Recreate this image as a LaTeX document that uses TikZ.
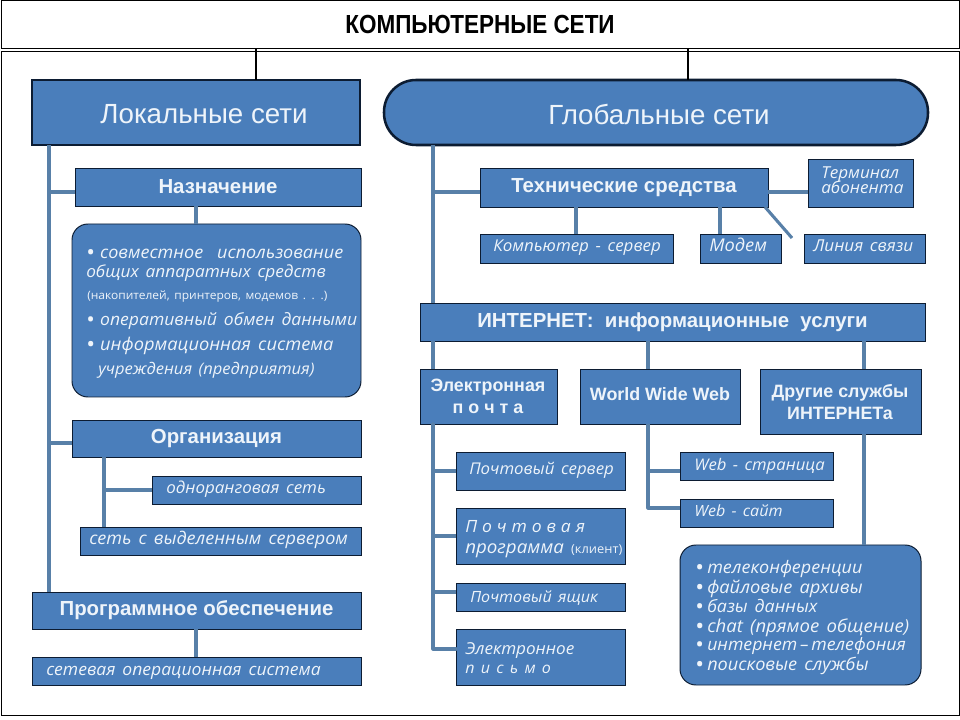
\documentclass[tikz,border=0pt]{standalone}
\usepackage{fontspec}
\setmainfont{Liberation Sans}
\newfontfamily\titlefont[FakeStretch=0.86]{Liberation Sans}
\newfontfamily\itfont[WordSpace=1.5,FakeStretch=1.04]{Open Sans}
\usetikzlibrary{positioning}
\definecolor{boxfill}{RGB}{74, 126, 187}
\definecolor{boxline}{RGB}{12, 28, 50}
\definecolor{wirecolor}{RGB}{88, 128, 168}
\definecolor{boxtext}{RGB}{238, 244, 250}
\newcommand{\bull}[1]{\makebox[#1pt][l]{\upshape\bfseries •}}

\tikzset{
  wd/.style={minimum width=#1*0.025cm},
  ht/.style={minimum height=#1*0.025cm},
  fs/.style={font=\itfont\itshape\fontsize{#1}{11.4}\selectfont},
  framebox/.style={draw=black, line width=0.6pt, inner sep=0pt, outer sep=0pt},
  tbox/.style={draw=boxline, fill=boxfill, line width=0.7pt, inner sep=0pt, outer sep=0pt, text=boxtext, font=\bfseries\fontsize{14.5}{16}\selectfont},
  headbox/.style={tbox, line width=1.8pt},
  headtxt/.style={inner sep=0pt, text=boxtext, font=\fontsize{19.7}{22}\selectfont},
  softbox/.style={tbox, rounded corners=0.4cm},
  wire/.style={draw=wirecolor, line width=2.2pt},
  itxt/.style={inner sep=0pt, anchor=base west, text=boxtext},
  btxt/.style={inner sep=0pt, text=boxtext, align=center, font=\bfseries\fontsize{12.7}{15.5}\selectfont},
}

\begin{document}
\begin{tikzpicture}[x=0.025cm, y=-0.025cm]
  \useasboundingbox (0,0) rectangle (960,720);

  % ---------- Frames ----------
  \node[framebox, wd=958, ht=48, font=\titlefont\bfseries\fontsize{18.6}{20}\selectfont] (title) at (480,24.5) {КОМПЬЮТЕРНЫЕ СЕТИ};
  \node[framebox, wd=958, ht=664] (frame) at (480,383) {};

  % ---------- Left column ----------
  \node[headbox, wd=328, ht=65] (lokal) at (196,112.5) {};
  \node[headtxt] (lokaltxt) at (204,114) {Локальные сети};
  \node[tbox, wd=286, ht=38] (nazn) at (218,187) {Назначение};
  \node[softbox, wd=289, ht=173] (naznlist) at (216.5,310.5) {};
  \node[tbox, wd=289, ht=37] (org) at (216.5,438.5) {Организация};
  \node[tbox, wd=209, ht=28] (peer) at (256.5,490) {};
  \node[tbox, wd=281, ht=28] (dedic) at (220.5,541) {};
  \node[tbox, wd=329, ht=37] (progr) at (196.5,610.5) {Программное обеспечение};
  \node[tbox, wd=329, ht=28] (netos) at (196.5,671) {};

  \node[itxt, fs=12.3] (n1) at (87,259) {\bull{9.2}совместное\ \ использование};
  \node[itxt, fs=11.8] (n2) at (86,278) {общих аппаратных средств};
  \node[itxt, font=\itfont\fontsize{8.2}{10}\selectfont] (n3) at (87,300) {(накопителей, принтеров, модемов . . .)};
  \node[itxt, fs=12] (n4) at (87,326) {\bull{9.2}оперативный обмен данными};
  \node[itxt, fs=12.5] (n5) at (87,351) {\bull{9.2}информационная система};
  \node[itxt, fs=11.3] (n6) at (98,375) {учреждения (предприятия)};
  \node[itxt, fs=11.6] (peertxt) at (166,494) {одноранговая сеть};
  \node[itxt, fs=12.35] (dedictxt) at (89,545) {сеть с выделенным сервером};
  \node[itxt, fs=12] (netostxt) at (46,675) {сетевая операционная система};

  % ---------- Right column ----------
  \node[headbox, wd=544, ht=65, rounded corners=0.8cm] (global) at (656,112.5) {};
  \node[headtxt] (globaltxt) at (659,114) {Глобальные сети};
  \node[tbox, wd=288, ht=39] (tech) at (624,187.5) {Технические средства};
  \node[tbox, wd=105, ht=48] (term) at (860.5,183) {};
  \node[tbox, wd=193, ht=29] (comp) at (576.5,248.5) {};
  \node[tbox, wd=81, ht=29] (modem) at (740.5,248.5) {};
  \node[tbox, wd=121, ht=29] (liniya) at (864.5,248.5) {};
  \node[tbox, wd=505, ht=38] (inet) at (672.5,322) {ИНТЕРНЕТ:\ \ информационные\ \ услуги};

  \node[itxt, fs=11.7] (term1) at (821,179) {Терминал};
  \node[itxt, fs=11.7] (term2) at (821,194) {абонента};
  \node[itxt, fs=11.6] (comptxt) at (493,252) {Компьютер - сервер};
  \node[itxt, fs=12.5] (modemtxt) at (709,252) {Модем};
  \node[itxt, fs=11.7] (liniyatxt) at (813,252) {Линия связи};

  \node[tbox, wd=137, ht=55] (mail) at (488.5,396.5) {};
  \node[tbox, wd=160, ht=55] (www) at (660,396.5) {};
  \node[tbox, wd=161, ht=65] (other) at (840.5,401.5) {};
  \node[btxt] (mailtxt) at (488,396) {Электронная\\п о ч т а};
  \node[btxt] (wwwtxt) at (660,394) {World Wide Web};
  \node[btxt] (othertxt) at (840,402) {Другие службы\\ИНТЕРНЕТа};

  \node[tbox, wd=169, ht=38] (msrv) at (540.5,471) {};
  \node[tbox, wd=169, ht=56] (mprog) at (540.5,536) {};
  \node[tbox, wd=169, ht=28] (mbox) at (540.5,597) {};
  \node[tbox, wd=169, ht=56] (mlet) at (540.5,657) {};
  \node[itxt, fs=11.5] (msrvtxt) at (469,475) {Почтовый сервер};
  \node[itxt, fs=12] (mprog1) at (465,533) {П\hspace{3.5pt}о\hspace{3.5pt}ч\hspace{3.5pt}т\hspace{3.5pt}о\hspace{3.5pt}в\hspace{3.5pt}а\hspace{3.5pt}я};
  \node[itxt, fs=12.8] (mprog2) at (465,553) {программа \textup{\fontsize{8.8}{10}\selectfont(клиент)}};
  \node[itxt, fs=11] (mboxtxt) at (470,602) {Почтовый ящик};
  \node[itxt, fs=11.7] (mlet1) at (465,654) {Электронное};
  \node[itxt, fs=11] (mlet2) at (465,673) {п и с ь м о};

  \node[tbox, wd=153, ht=28] (wpage) at (756.5,466) {};
  \node[tbox, wd=153, ht=28] (wsite) at (756.5,513) {};
  \node[itxt, fs=11.4] (wpagetxt) at (694,471) {Web - страница};
  \node[itxt, fs=11] (wsitetxt) at (694,517) {Web - сайт};

  \node[softbox, wd=241, ht=140] (otherlist) at (800.5,615) {};
  \foreach \yy/\sz/\txt/\nm in {574/12.3/телеконференции/a, 593/12.5/файловые архивы/b, 612/12.2/базы данных/c,
      632/12.7/chat (прямое общение)/d, 650/12.1/интернет\,–\,телефония/e, 670/12.4/поисковые службы/f}
    \node[itxt, fs=\sz] (ol\nm) at (696,\yy) {\bull{7.8}\txt};

  % ---------- Connectors ----------
  \coordinate (lstem) at (256,0);
  \coordinate (gstem) at (688,0);
  \draw[black, line width=1.2pt] (lstem |- title.south) -- (lstem |- lokal.north);
  \draw[black, line width=1.2pt] (gstem |- title.south) -- (gstem |- global.north);

  \coordinate (ltrunk) at (49,0);
  \coordinate (lb1) at (49,192);
  \coordinate (lb2) at (49,443);
  \draw[wire] (ltrunk |- lokal.south) -- (ltrunk |- progr.north);
  \draw[wire] (lb1) -- (lb1 -| nazn.west);
  \draw[wire] (lb2) -- (lb2 -| org.west);
  \coordinate (lc) at (196,0);
  \draw[wire] (lc |- nazn.south) -- (lc |- naznlist.north);
  \draw[wire] (lc |- progr.south) -- (lc |- netos.north);
  \coordinate (otrunk) at (104,0);
  \coordinate (ob) at (104,490);
  \draw[wire] (otrunk |- org.south) -- (otrunk |- dedic.north);
  \draw[wire] (ob) -- (ob -| peer.west);

  \coordinate (gtrunk) at (433,0);
  \coordinate (gb) at (433,192);
  \draw[wire] (gtrunk |- global.south) -- (gtrunk |- inet.north);
  \draw[wire] (gb) -- (gb -| tech.west);
  \coordinate (tb) at (788,192);
  \draw[wire] (tb -| tech.east) -- (tb -| term.west);
  \coordinate (t1) at (576,0);
  \coordinate (t2) at (720,0);
  \coordinate (t3) at (792,238);
  \draw[wire] (t1 |- tech.south) -- (t1 |- comp.north);
  \draw[wire] (t2 |- tech.south) -- (t2 |- modem.north);
  \draw[wire] ([xshift=-0.075cm]tech.south east) -- (t3);

  \coordinate (i2) at (648,0);
  \coordinate (i3) at (864,0);
  \draw[wire] (gtrunk |- inet.south) -- (gtrunk |- mail.north);
  \draw[wire] (i2 |- inet.south) -- (i2 |- www.north);
  \draw[wire] (i3 |- inet.south) -- (i3 |- other.north);
  \draw[wire] (i3 |- other.south) -- (i3 |- otherlist.north);

  \coordinate (m1) at (433,471);
  \coordinate (m2) at (433,536);
  \coordinate (m3) at (433,592);
  \coordinate (m4) at (433,649);
  \draw[wire, line cap=round, line join=round] (gtrunk |- mail.south) -- (m4) -- (m4 -| mlet.west);
  \draw[wire] (m1) -- (m1 -| msrv.west);
  \draw[wire] (m2) -- (m2 -| mprog.west);
  \draw[wire] (m3) -- (m3 -| mbox.west);

  \coordinate (w1) at (648,471);
  \coordinate (w2) at (648,508);
  \draw[wire, line join=round] (i2 |- www.south) -- (w2) -- (w2 -| wsite.west);
  \draw[wire] (w1) -- (w1 -| wpage.west);

\end{tikzpicture}
\end{document}
